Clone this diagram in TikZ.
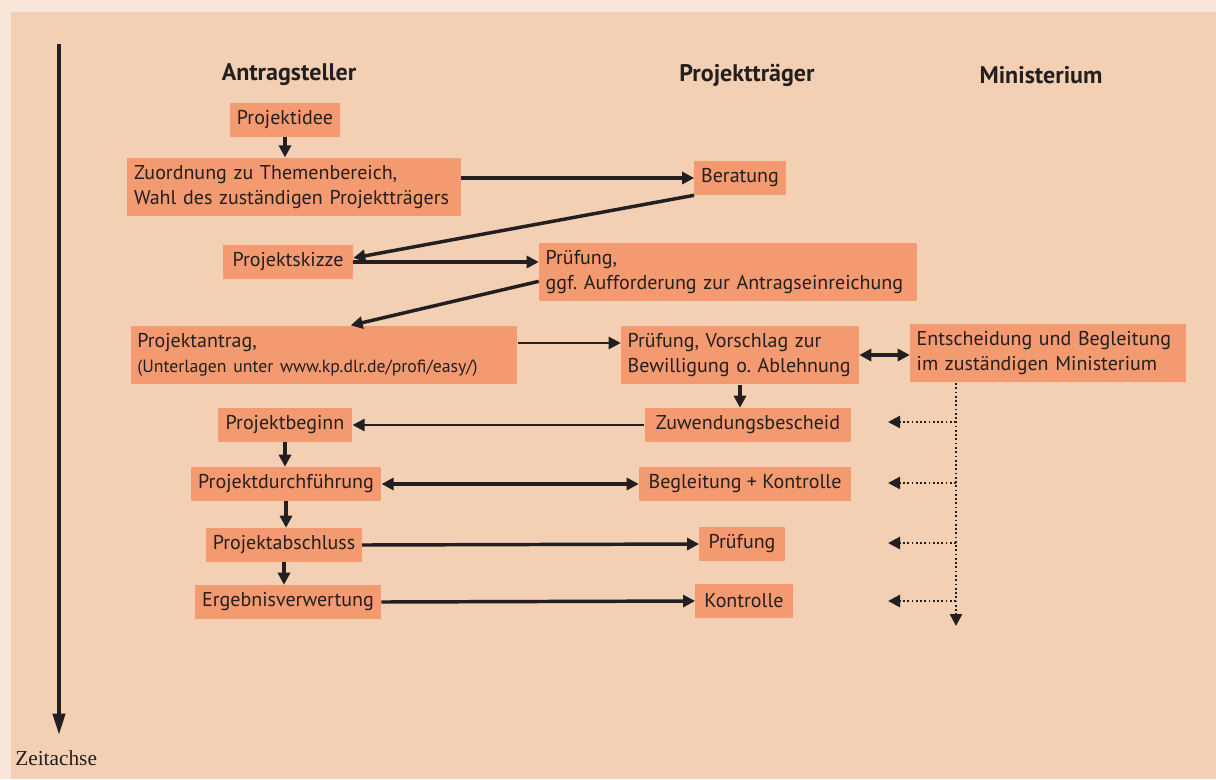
\documentclass[tikz,border=0pt]{standalone}
\usepackage{fontspec}
\usetikzlibrary{arrows.meta}
\usetikzlibrary{positioning}
\newfontfamily\boxfont{PT Sans}
\newfontfamily\axisfont{Liberation Serif}
\newcommand\kastenfont{\boxfont\fontsize{15}{18.75}\selectfont\frenchspacing\hyphenpenalty=10000\relax}
\definecolor{rand}{HTML}{F8E6DA}
\definecolor{grund}{HTML}{F3D0B3}
\definecolor{boxc}{HTML}{F39A70}
\definecolor{txt}{HTML}{231F20}

\begin{document}
\begin{tikzpicture}
        [x=0.75pt, y=-0.75pt,
         kasten/.style={fill=boxc, text=txt, inner xsep=5pt, inner ysep=0pt,
           minimum height=25.5pt, font=\kastenfont},
         zweizeilig/.style={minimum height=44pt, align=left},
         kopf/.style={text=txt, font=\boxfont\bfseries\fontsize{18}{20}\selectfont},
         pfeil/.style={draw=txt, line width=2.6pt, -{Triangle[length=9pt, width=9pt]}},
         duenn/.style={draw=txt, line width=1.9pt, -{Triangle[length=9pt, width=9pt]}},
         doppel/.style={pfeil, {Triangle[length=9pt, width=9pt]}-{Triangle[length=9pt, width=9pt]}},
         punkt/.style={draw=txt, line width=1.8pt, dash pattern=on 1.3pt off 1.9pt,
           -{Triangle[length=9pt, width=9pt]}}]
        \useasboundingbox (0,0) rectangle (1216,779);
        \fill[rand] (0,0) rectangle (1216,779);
        \fill[grund] (11,12) rectangle (1216,779);

        % Zeitachse
        \coordinate (zoben) at (59,44);
        \coordinate (zunten) at (59,735);
        \draw[draw=txt, line width=3pt, -{Triangle[length=16pt, width=9pt]}] (zoben) -- (zunten);
        \node[text=txt, anchor=north west, inner sep=0pt, font=\axisfont\fontsize{16}{18}\selectfont]
          (zeit) at (15,750) {Zeitachse};

        % Spaltenkoepfe
        \node[kopf] (k1) at (289,75) {Antragsteller};
        \node[kopf] (k2) at (747,75) {Projektträger};
        \node[kopf] (k3) at (1041,75) {Ministerium};

        % Antragsteller
        \node[kasten, minimum width=83pt] (idee) at (285,120) {Projektidee};
        \node[kasten, zweizeilig, text width=240pt] (zuordnung) at (294,187)
          {Zuordnung zu Themenbereich,\\Wahl des zuständigen Projektträgers};
        \node[kasten, minimum width=97.5pt] (skizze) at (288,262) {Projektskizze};
        \node[kasten, zweizeilig, text width=280pt] (antrag) at (324,355)
          {Projektantrag,\\{\fontsize{13.3}{16}\selectfont(Unterlagen unter www.kp.dlr.de/profi/easy/)}};
        \node[kasten, minimum width=101pt] (beginn) at (285,425) {Projektbeginn};
        \node[kasten, minimum width=143pt] (durchf) at (286,484) {Projektdurchführung};
        \node[kasten, minimum width=115.5pt] (abschl) at (284,545) {Projektabschluss};
        \node[kasten, minimum width=139.5pt] (verwert) at (288,602) {Ergebnisverwertung};

        % Projekttraeger
        \node[kasten, minimum width=68pt] (beratung) at (740,178) {Beratung};
        \node[kasten, zweizeilig, text width=273.5pt] (pruefA) at (728,272)
          {Prüfung,\\ggf. Aufforderung zur Antragseinreichung};
        \node[kasten, zweizeilig, text width=168.5pt] (pruefB) at (740,355)
          {Prüfung, Vorschlag zur\\Bewilligung o. Ablehnung};
        \node[kasten, minimum width=155pt] (bescheid) at (748,425) {Zuwendungsbescheid};
        \node[kasten, minimum width=159pt] (begl) at (745,484) {Begleitung + Kontrolle};
        \node[kasten, minimum width=64pt] (pruef) at (742,544) {Prüfung};
        \node[kasten, minimum width=73pt] (kontr) at (744,601) {Kontrolle};

        % Ministerium
        \node[kasten, zweizeilig, text width=197pt] (entsch) at (1048,353)
          {Entscheidung und Begleitung\\im zuständigen Ministerium};

        % Verbindungen
        \draw[pfeil] (idee) -- (idee |- zuordnung.north);
        \draw[pfeil] (zuordnung.east |- beratung.west) -- (beratung.west);
        \draw[pfeil] (beratung.south west) -- ([yshift=3pt]skizze.east);
        \draw[pfeil] (skizze.east) -- (pruefA.west |- skizze.east);
        \draw[pfeil] ([yshift=-7pt]pruefA.west) -- ([xshift=20pt]antrag.north);
        \draw[duenn] ([yshift=9pt]antrag.east) -- ([yshift=9pt]pruefB.west);
        \draw[doppel] (pruefB.east) -- (entsch.west |- pruefB.east);
        \draw[pfeil] (pruefB) -- (pruefB |- bescheid.north);
        \draw[duenn] (bescheid.west) -- (beginn.east);
        \draw[pfeil] (beginn) -- (beginn |- durchf.north);
        \draw[doppel] (durchf.east) -- (begl.west);
        \draw[pfeil] (durchf) -- (durchf |- abschl.north);
        \draw[pfeil] (abschl.east) -- (pruef.west);
        \draw[pfeil] (abschl) -- (abschl |- verwert.north);
        \draw[pfeil] (verwert.east) -- (kontr.west);

        % Begleitung durch das Ministerium
        \coordinate (m0) at (956,383);
        \coordinate (m1) at (956,626);
        \draw[punkt] (m0) -- (m1);
        \foreach \y [count=\i] in {422,483,543,601} {
          \coordinate (s\i) at (956,\y);
          \coordinate (t\i) at (888,\y);
          \draw[punkt] (s\i) -- (t\i);
        }
    \end{tikzpicture}
\end{document}
